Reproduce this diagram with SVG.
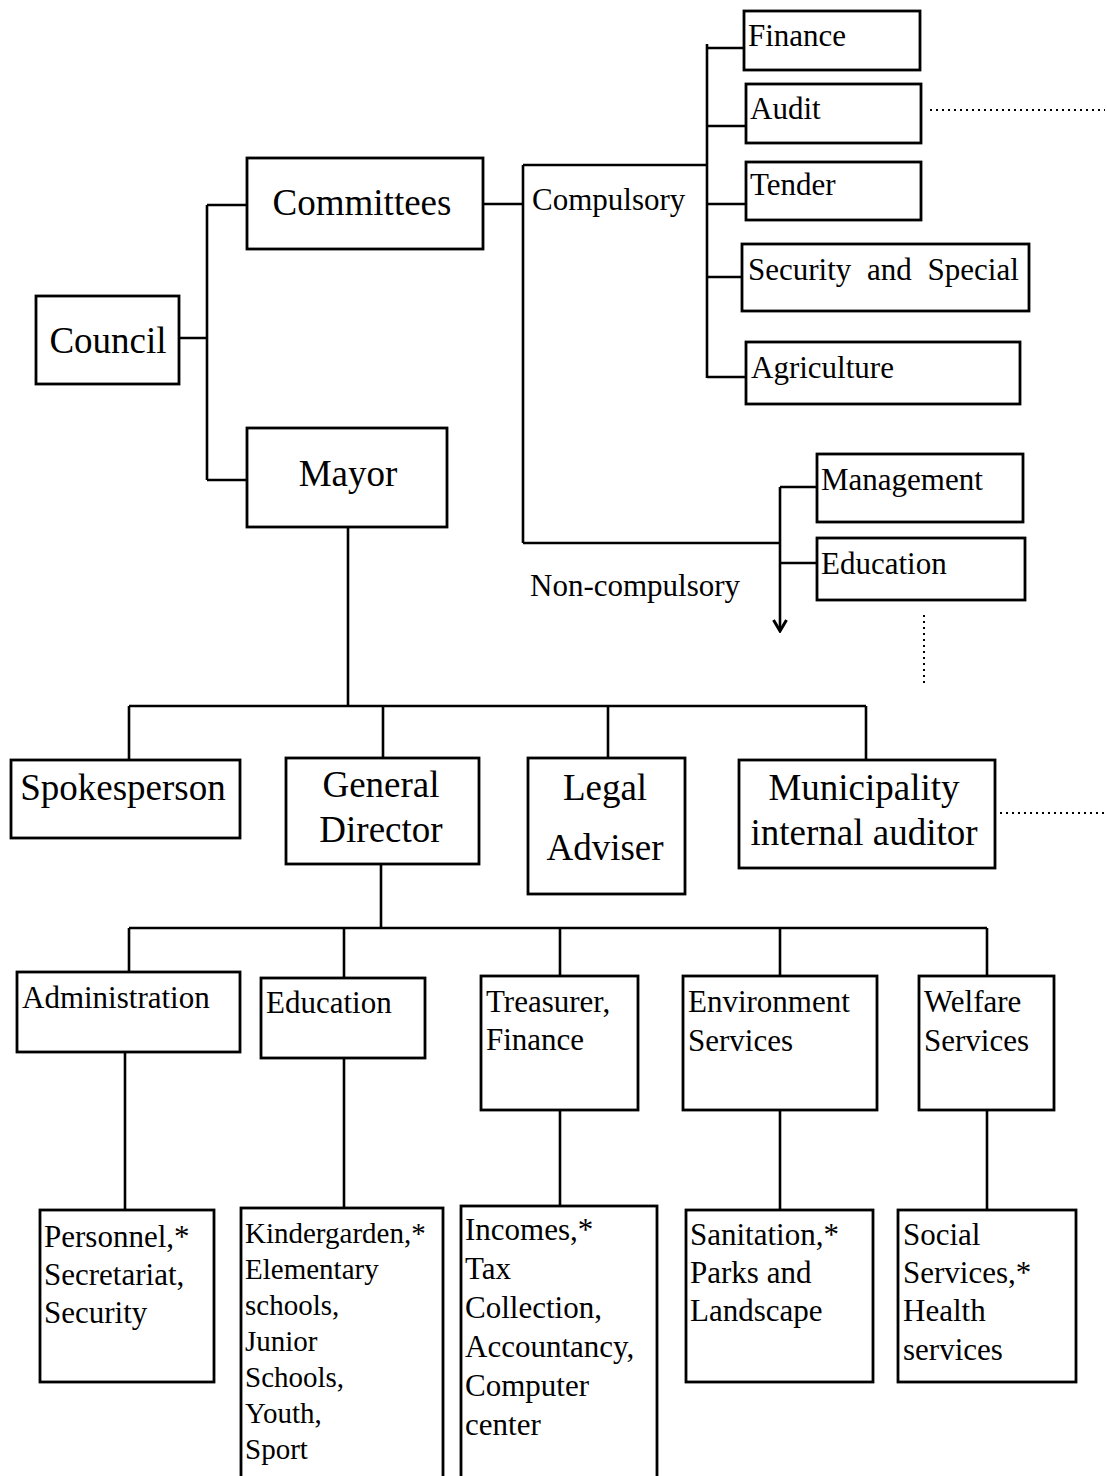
<svg xmlns="http://www.w3.org/2000/svg" width="1107" height="1476" viewBox="0 0 1107 1476">
<style>
.box{fill:#fff;stroke:#000;stroke-width:2.8}
.ln{fill:none;stroke:#000;stroke-width:2.6}
.dot{fill:none;stroke:#000;stroke-width:2;stroke-dasharray:2 4}
text{font-family:"Liberation Serif","Times New Roman",serif;fill:#000}
.big{font-size:37px;text-anchor:middle}
.sm{font-size:31px}
</style>
<defs>
<marker id="chev" viewBox="0 0 16 16" refX="14" refY="8" markerWidth="16" markerHeight="16" markerUnits="userSpaceOnUse" orient="auto">
<polyline points="3,1.5 14,8 3,14.5" fill="none" stroke="#000" stroke-width="3"/>
</marker>
</defs>
<rect width="1107" height="1476" fill="#fff"/>
<g id="connectors">
<path class="ln" d="M179 338H207M207 205V480M207 205H247M207 480H247"/>
<path class="ln" d="M483 204H523M523 165V543M523 165H707M523 543H780"/>
<path class="ln" d="M707 44V378M707 48H744M707 126H746M707 204H746M707 277H742M707 377H746"/>
<path class="ln" d="M780 487H817M780 563H817"/>
<path class="ln" d="M780 487V631" marker-end="url(#chev)"/>
<path class="dot" d="M930 110H1105M924 615V686M1000 813H1105"/>
<path class="ln" d="M348 527V706M129 706H866M129 706V760M383 706V758M608 706V758M866 706V760"/>
<path class="ln" d="M381 864V928M129 928H987M129 928V972M344 928V978M560 928V976M780 928V976M987 928V976"/>
<path class="ln" d="M125 1052V1210M344 1058V1208M560 1110V1206M780 1110V1210M987 1110V1210"/>
</g>
<g id="council"><rect class="box" x="36" y="296" width="143" height="88"/><text class="big" x="108" y="353">Council</text></g>
<g id="committees"><rect class="box" x="247" y="158" width="236" height="91"/><text class="big" x="362" y="215">Committees</text></g>
<g id="mayor"><rect class="box" x="247" y="428" width="200" height="99"/><text class="big" x="348" y="486">Mayor</text></g>
<g id="compulsory"><text class="sm" x="532" y="210">Compulsory</text></g>
<g id="noncompulsory"><text class="sm" x="530" y="596">Non-compulsory</text></g>
<g id="finance"><rect class="box" x="744" y="11" width="176" height="59"/><text class="sm" x="748" y="46">Finance</text></g>
<g id="audit"><rect class="box" x="746" y="84" width="175" height="59"/><text class="sm" x="750" y="119">Audit</text></g>
<g id="tender"><rect class="box" x="746" y="162" width="175" height="58"/><text class="sm" x="750" y="195">Tender</text></g>
<g id="security"><rect class="box" x="742" y="244" width="287" height="67"/><text class="sm" x="748" y="280" style="word-spacing:8px">Security and Special</text></g>
<g id="agriculture"><rect class="box" x="746" y="342" width="274" height="62"/><text class="sm" x="751" y="378">Agriculture</text></g>
<g id="management"><rect class="box" x="817" y="454" width="206" height="68"/><text class="sm" x="821" y="490">Management</text></g>
<g id="education-nc"><rect class="box" x="817" y="538" width="208" height="62"/><text class="sm" x="821" y="574">Education</text></g>
<g id="spokesperson"><rect class="box" x="11" y="760" width="229" height="78"/><text class="big" x="123" y="800">Spokesperson</text></g>
<g id="general-director"><rect class="box" x="286" y="758" width="193" height="106"/><text class="big" x="381" y="797">General</text><text class="big" x="381" y="842">Director</text></g>
<g id="legal-adviser"><rect class="box" x="528" y="758" width="157" height="136"/><text class="big" x="605" y="800">Legal</text><text class="big" x="605" y="860">Adviser</text></g>
<g id="auditor"><rect class="box" x="739" y="760" width="256" height="108"/><text class="big" x="864" y="800">Municipality</text><text class="big" x="864" y="845">internal auditor</text></g>
<g id="administration"><rect class="box" x="17" y="972" width="223" height="80"/><text class="sm" x="22" y="1008">Administration</text></g>
<g id="education"><rect class="box" x="261" y="978" width="164" height="80"/><text class="sm" x="266" y="1013">Education</text></g>
<g id="treasurer"><rect class="box" x="481" y="976" width="157" height="134"/><text class="sm" x="486" y="1012">Treasurer,</text><text class="sm" x="486" y="1050">Finance</text></g>
<g id="environment"><rect class="box" x="683" y="976" width="194" height="134"/><text class="sm" x="688" y="1012">Environment</text><text class="sm" x="688" y="1051">Services</text></g>
<g id="welfare"><rect class="box" x="919" y="976" width="135" height="134"/><text class="sm" x="924" y="1012">Welfare</text><text class="sm" x="924" y="1051">Services</text></g>
<g id="personnel"><rect class="box" x="40" y="1210" width="174" height="172"/><text class="sm" x="44" y="1247">Personnel,*</text><text class="sm" x="44" y="1285">Secretariat,</text><text class="sm" x="44" y="1323">Security</text></g>
<g id="kindergarden"><rect class="box" x="241" y="1208" width="202" height="280"/><text class="sm" x="245" y="1243" style="font-size:29px">Kindergarden,*</text><text class="sm" x="245" y="1279" style="font-size:29px">Elementary</text><text class="sm" x="245" y="1315" style="font-size:29px">schools,</text><text class="sm" x="245" y="1351" style="font-size:29px">Junior</text><text class="sm" x="245" y="1387" style="font-size:29px">Schools,</text><text class="sm" x="245" y="1423" style="font-size:29px">Youth,</text><text class="sm" x="245" y="1459" style="font-size:29px">Sport</text></g>
<g id="incomes"><rect class="box" x="461" y="1206" width="196" height="282"/><text class="sm" x="465" y="1240">Incomes,*</text><text class="sm" x="465" y="1279">Tax</text><text class="sm" x="465" y="1318">Collection,</text><text class="sm" x="465" y="1357">Accountancy,</text><text class="sm" x="465" y="1396">Computer</text><text class="sm" x="465" y="1435">center</text></g>
<g id="sanitation"><rect class="box" x="686" y="1210" width="187" height="172"/><text class="sm" x="690" y="1245">Sanitation,*</text><text class="sm" x="690" y="1283">Parks and</text><text class="sm" x="690" y="1321">Landscape</text></g>
<g id="social"><rect class="box" x="898" y="1210" width="178" height="172"/><text class="sm" x="903" y="1245">Social</text><text class="sm" x="903" y="1283">Services,*</text><text class="sm" x="903" y="1321">Health</text><text class="sm" x="903" y="1360">services</text></g>
</svg>
